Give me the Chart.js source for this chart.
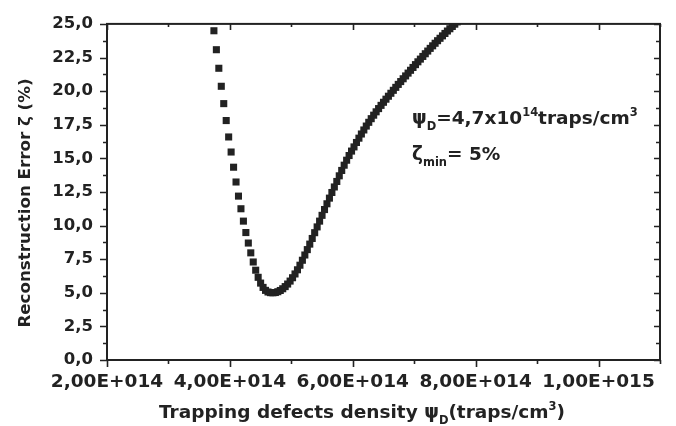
<!DOCTYPE html>
<html>
<head>
<meta charset="utf-8">
<script src="https://cdn.jsdelivr.net/npm/chart.js@4/dist/chart.umd.min.js"></script>
<style>
  html, body { margin: 0; padding: 0; background: #fff; }
</style>
</head>
<body>
<canvas id="chart" width="676" height="426"></canvas>
<script>
// trapping defects density, in units of 1e14 traps/cm3
const density = [
  3.74, 3.78, 3.82, 3.86, 3.90, 3.94, 3.98, 4.02, 4.06, 4.10, 4.14, 4.18,
  4.22, 4.26, 4.30, 4.34, 4.38, 4.42, 4.46, 4.50, 4.54, 4.58, 4.62, 4.66,
  4.70, 4.74, 4.78, 4.82, 4.86, 4.90, 4.94, 4.98, 5.02, 5.06, 5.10, 5.14,
  5.18, 5.22, 5.26, 5.30, 5.34, 5.38, 5.42, 5.46, 5.50, 5.54, 5.58, 5.62,
  5.66, 5.70, 5.74, 5.78, 5.82, 5.86, 5.90, 5.94, 5.98, 6.02, 6.06, 6.10,
  6.14, 6.18, 6.22, 6.26, 6.30, 6.34, 6.38, 6.42, 6.46, 6.50, 6.54, 6.58,
  6.62, 6.66, 6.70, 6.74, 6.78, 6.82, 6.86, 6.90, 6.94, 6.98, 7.02, 7.06,
  7.10, 7.14, 7.18, 7.22, 7.26, 7.30, 7.34, 7.38, 7.42, 7.46, 7.50, 7.54,
  7.58, 7.62, 7.66, 7.70
];
// reconstruction error (%)
const recError = [
  24.49, 23.08, 21.70, 20.36, 19.07, 17.81, 16.59, 15.47, 14.34, 13.24, 12.19, 11.25,
  10.33, 9.48, 8.70, 7.97, 7.29, 6.68, 6.15, 5.72, 5.40, 5.18, 5.06, 5.01,
  5.00, 5.02, 5.08, 5.17, 5.30, 5.46, 5.65, 5.87, 6.12, 6.40, 6.71, 7.05,
  7.42, 7.81, 8.21, 8.62, 9.04, 9.47, 9.90, 10.33, 10.76, 11.19, 11.62, 12.04,
  12.46, 12.87, 13.28, 13.70, 14.10, 14.49, 14.86, 15.21, 15.54, 15.85, 16.18, 16.50,
  16.81, 17.11, 17.40, 17.68, 17.95, 18.21, 18.46, 18.70, 18.94, 19.17, 19.40, 19.62,
  19.84, 20.06, 20.28, 20.50, 20.71, 20.92, 21.13, 21.34, 21.55, 21.76, 21.97, 22.18,
  22.38, 22.58, 22.78, 22.98, 23.18, 23.37, 23.56, 23.75, 23.93, 24.11, 24.29, 24.47,
  24.64, 24.81, 24.98, 25.15
];

const xTicks = [2e14, 4e14, 6e14, 8e14, 1e15];
const xTickLabels = ['2,00E+014', '4,00E+014', '6,00E+014', '8,00E+014', '1,00E+015'];
const yTicks = [0, 2.5, 5, 7.5, 10, 12.5, 15, 17.5, 20, 22.5, 25];
const yTickLabels = ['0,0', '2,5', '5,0', '7,5', '10,0', '12,5', '15,0', '17,5', '20,0', '22,5', '25,0'];

const ink = '#222';
const FONT = 'DejaVu Sans';

// draws a line of text with sub/superscript parts, x is left edge
function drawRuns(ctx, runs, x, y, size) {
  let cx = x;
  runs.forEach(r => {
    const s = r.sub || r.sup ? size * 0.62 : size;
    ctx.font = 'bold ' + s + 'px "' + FONT + '"';
    const dy = r.sub ? size * 0.3 : (r.sup ? -size * 0.45 : 0);
    ctx.fillText(r.t, cx, y + dy);
    cx += ctx.measureText(r.t).width;
  });
  return cx - x;
}
function runsWidth(ctx, runs, size) {
  let w = 0;
  runs.forEach(r => {
    const s = r.sub || r.sup ? size * 0.62 : size;
    ctx.font = 'bold ' + s + 'px "' + FONT + '"';
    w += ctx.measureText(r.t).width;
  });
  return w;
}

const decor = {
  id: 'decor',
  afterDraw(chart) {
    const ctx = chart.ctx;
    const a = chart.chartArea;
    const xs = chart.scales.x, ys = chart.scales.y;
    ctx.save();
    ctx.strokeStyle = ink;
    ctx.fillStyle = ink;
    ctx.lineWidth = 2;
    ctx.strokeRect(a.left, a.top, a.right - a.left, a.bottom - a.top);

    ctx.lineWidth = 1.6;
    ctx.beginPath();
    for (let v = 2e14; v <= 1.1e15 + 1; v += 1e14) {
      const px = Math.round(xs.getPixelForValue(v)) + 0.5;
      const major = xTicks.some(t => Math.abs(t - v) < 1e10);
      ctx.moveTo(px, a.bottom); ctx.lineTo(px, a.bottom + (major ? 7 : 4));
      ctx.moveTo(px, a.top); ctx.lineTo(px, a.top + (major ? 6 : 3));
    }
    for (let v = 0; v <= 25.001; v += 1.25) {
      const py = Math.round(ys.getPixelForValue(v)) + 0.5;
      const major = yTicks.some(t => Math.abs(t - v) < 1e-6);
      ctx.moveTo(a.left, py); ctx.lineTo(a.left - (major ? 7 : 4), py);
      ctx.moveTo(a.right, py); ctx.lineTo(a.right - (major ? 6 : 4), py);
    }
    ctx.stroke();

    ctx.textBaseline = 'alphabetic';
    ctx.textAlign = 'left';
    // x axis title
    const xTitle = [{t: 'Trapping defects density \u03c8'}, {t: 'D', sub: true}, {t: '(traps/cm'}, {t: '3', sup: true}, {t: ')'}];
    const xw = runsWidth(ctx, xTitle, 18.5);
    drawRuns(ctx, xTitle, 362 - xw / 2, 418, 18.5);

    // y axis title
    const yTitle = [{t: 'Reconstruction Error \u03b6 (%)'}];
    const yw = runsWidth(ctx, yTitle, 16.7);
    ctx.save();
    ctx.translate(30, 203);
    ctx.rotate(-Math.PI / 2);
    drawRuns(ctx, yTitle, -yw / 2, 0, 16.7);
    ctx.restore();

    // annotation
    drawRuns(ctx, [{t: '\u03c8'}, {t: 'D', sub: true}, {t: '=4,7x10'}, {t: '14', sup: true}, {t: 'traps/cm'}, {t: '3', sup: true}], 412, 124, 18.5);
    drawRuns(ctx, [{t: '\u03b6'}, {t: 'min', sub: true}, {t: '= 5%'}], 412, 160, 18.5);
    ctx.restore();
  }
};

const ctx = document.getElementById('chart').getContext('2d');
const chart = new Chart(ctx, {
  type: 'scatter',
  data: {
    datasets: [{
      data: density.map((d, i) => ({ x: d * 1e14, y: recError[i] })),
      pointStyle: 'rect',
      pointRadius: 5,
      backgroundColor: ink,
      borderColor: ink,
      borderWidth: 0
    }]
  },
  options: {
    responsive: false,
    animation: false,
    layout: { padding: { top: 17, right: 16, left: 0, bottom: 0 } },
    plugins: { legend: { display: false }, tooltip: { enabled: false } },
    scales: {
      x: {
        type: 'linear',
        min: 2e14,
        max: 1.1e15,
        afterBuildTicks: s => { s.ticks = xTicks.map(v => ({ value: v })); },
        afterFit: s => { s.height = 66; },
        grid: { display: false, drawTicks: false },
        border: { display: false },
        ticks: {
          callback: (v, i) => xTickLabels[i],
          autoSkip: false,
          maxRotation: 0,
          padding: 11,
          color: ink,
          font: { family: FONT, weight: 'bold', size: 18.5 }
        }
      },
      y: {
        type: 'linear',
        min: 0,
        max: 25,
        afterBuildTicks: s => { s.ticks = yTicks.map(v => ({ value: v })); },
        afterFit: s => { s.width = 107; },
        grid: { display: false, drawTicks: false },
        border: { display: false },
        ticks: {
          callback: (v, i) => yTickLabels[i],
          autoSkip: false,
          padding: 14,
          color: ink,
          font: { family: FONT, weight: 'bold', size: 16.5 }
        }
      }
    }
  },
  plugins: [decor]
});
</script>
</body>
</html>
